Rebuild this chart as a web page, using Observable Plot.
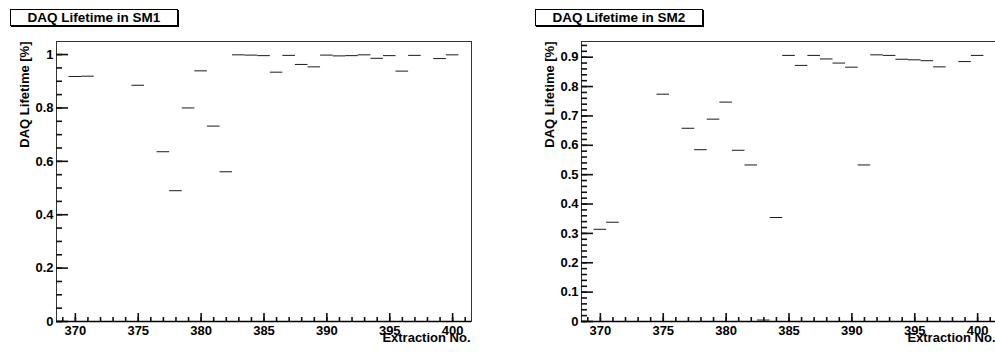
<!DOCTYPE html>
<html><head><meta charset="utf-8">
<script src="https://cdn.jsdelivr.net/npm/d3@7"></script>
<script src="https://cdn.jsdelivr.net/npm/@observablehq/plot@0.6"></script>
<style>
html,body{margin:0;padding:0;background:#fff;}
#wrap{position:relative;width:995px;height:352px;overflow:hidden;font-family:"Liberation Sans",Arial,sans-serif;}
.pad{position:absolute;top:0;width:525px;height:352px;}
.title{position:absolute;top:9px;left:10px;width:168px;height:17px;box-sizing:border-box;border:1px solid #000;box-shadow:1px 1px 0 #000;background:#fff;font:bold 13.5px "Liberation Sans",Arial,sans-serif;text-align:center;line-height:15px;color:#000;}
</style></head><body><div id="wrap"></div>
<script>
// SM1
const extractionsSM1 = [370, 371, 375, 377, 378, 379, 380, 381, 382, 383, 384, 385, 386, 387, 388, 389, 390, 391, 392, 393, 394, 395, 396, 397, 399, 400];
const lifetimeSM1    = [0.918, 0.919, 0.885, 0.636, 0.490, 0.800, 0.939, 0.732, 0.561, 0.999, 0.998, 0.996, 0.934, 0.997, 0.963, 0.954, 0.998, 0.995, 0.996, 0.999, 0.986, 0.996, 0.938, 0.997, 0.985, 0.999];
// SM2
const extractionsSM2 = [370, 371, 375, 377, 378, 379, 380, 381, 382, 383, 384, 385, 386, 387, 388, 389, 390, 391, 392, 393, 394, 395, 396, 397, 399, 400];
const lifetimeSM2    = [0.314, 0.338, 0.774, 0.658, 0.585, 0.689, 0.747, 0.583, 0.533, 0.005, 0.354, 0.906, 0.872, 0.906, 0.894, 0.880, 0.866, 0.533, 0.908, 0.906, 0.893, 0.891, 0.888, 0.867, 0.885, 0.906];

const xRange = [368.5, 401.5];
const xMajorTicks = [370, 375, 380, 385, 390, 395, 400];
const xMinorTicks = [369, 370, 371, 372, 373, 374, 375, 376, 377, 378, 379, 380, 381, 382, 383, 384, 385, 386, 387, 388, 389, 390, 391, 392, 393, 394, 395, 396, 397, 398, 399, 400, 401];
const yMajorTicksSM1 = [0, 0.2, 0.4, 0.6, 0.8, 1];
const yMajorTicksSM2 = [0, 0.1, 0.2, 0.3, 0.4, 0.5, 0.6, 0.7, 0.8, 0.9];
const titles = ["DAQ Lifetime in SM1", "DAQ Lifetime in SM2"];
const yTitle = "DAQ Lifetime [%]";
const xTitle = "Extraction No.";

const W = 525, H = 352, ML = 56, MR = 54, MT = 41, MB = 31;
const FW = W - ML - MR, FH = H - MT - MB;
const font = {fontSize: 13, fontWeight: "bold", fontFamily: "'Liberation Sans', Arial, sans-serif"};
const tickStyle = {stroke: "#111", strokeWidth: 1.6};

function pad(ext, vals, yMajor, yMinorStep, title, left) {
  const data = ext.map((x, i) => ({x, v: vals[i]}));
  const ymax = d3.max(vals) * 1.05;
  const yMinor = [];
  for (let i = 0; i * yMinorStep <= ymax + 1e-9; i++) yMinor.push(i * yMinorStep);
  const xMinorRows = xMinorTicks.map(t => ({t}));
  const xMajorRows = xMajorTicks.map(t => ({t}));
  const yMinorRows = yMinor.map(t => ({t}));
  const yMajorRows = yMajor.map(t => ({t}));
  const chart = Plot.plot({
    width: W, height: H,
    marginLeft: ML, marginRight: MR, marginTop: MT, marginBottom: MB,
    style: {fontFamily: "'Liberation Sans', Arial, sans-serif", fontSize: "13px", fontWeight: "bold", color: "#000", background: "transparent", overflow: "visible"},
    x: {domain: xRange},
    y: {domain: [0, ymax]},
    marks: [
      Plot.frame({stroke: "#333", strokeWidth: 1}),
      Plot.ruleX(xMinorRows, {x: "t", insetTop: FH - 4, ...tickStyle}),
      Plot.ruleX(xMajorRows, {x: "t", insetTop: FH - 8, ...tickStyle}),
      Plot.axisX(xMajorTicks, {tickSize: 0, tickPadding: 4, label: null, tickFormat: d => String(d), ...font}),
      Plot.ruleY(yMinorRows, {y: "t", insetRight: FW - 6, ...tickStyle}),
      Plot.ruleY(yMajorRows, {y: "t", insetRight: FW - 12, ...tickStyle}),
      Plot.axisY(yMajor, {tickSize: 0, tickPadding: 3, label: null, tickFormat: d => String(d), ...font}),
      Plot.ruleY([0], {stroke: "#000", strokeWidth: 1.3}),
      Plot.ruleY(data, {x1: d => d.x - 0.5, x2: d => d.x + 0.5, y: "v", stroke: "#1a1a1a", strokeWidth: 1}),
      Plot.text([yTitle], {frameAnchor: "top-left", rotate: -90, textAnchor: "end", lineAnchor: "middle", dx: -32, ...font}),
      Plot.text([xTitle], {frameAnchor: "bottom-right", textAnchor: "end", lineAnchor: "bottom", dy: 20.5, dx: -1, ...font})
    ]
  });
  const div = document.createElement("div");
  div.className = "pad";
  div.style.left = left + "px";
  div.appendChild(chart);
  const t = document.createElement("div");
  t.className = "title";
  t.textContent = title;
  div.appendChild(t);
  document.getElementById("wrap").appendChild(div);
}

pad(extractionsSM1, lifetimeSM1, yMajorTicksSM1, 0.05, titles[0], 0);
pad(extractionsSM2, lifetimeSM2, yMajorTicksSM2, 0.02, titles[1], 525);
</script>
</body></html>
